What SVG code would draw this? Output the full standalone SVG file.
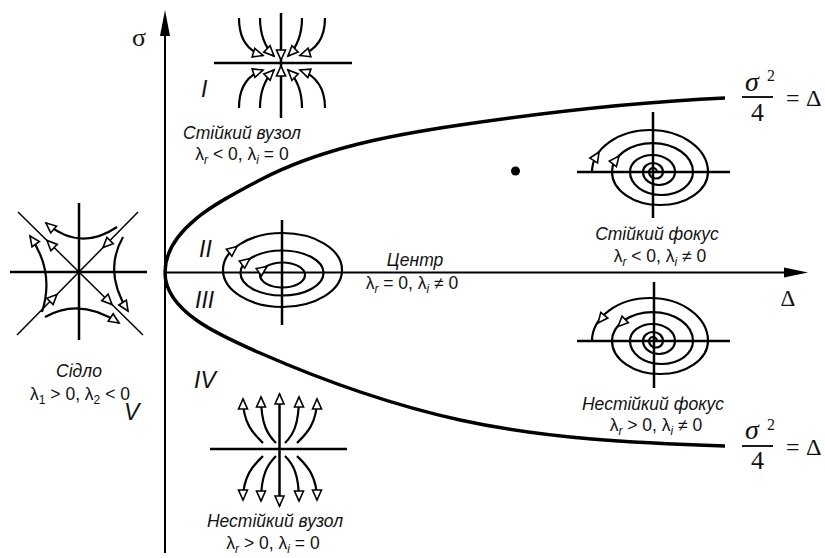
<svg xmlns="http://www.w3.org/2000/svg" xmlns:xlink="http://www.w3.org/1999/xlink" width="825" height="558" viewBox="0 0 825 558">
<style>
.ax{stroke:#000;stroke-width:2;fill:none}
.pb{stroke:#000;stroke-width:3.5;fill:none;stroke-linecap:butt}
.cr{stroke:#000;stroke-width:2.5;fill:none}
.tr{stroke:#000;stroke-width:2.2;fill:none}
.dg{stroke:#000;stroke-width:1.5;fill:none}
.me{marker-end:url(#oa)}
.lbl{font-family:"Liberation Sans",Arial,sans-serif;font-style:italic;font-size:17.5px;fill:#111}
.lam{font-family:"Liberation Sans",Arial,sans-serif;font-size:17.5px;fill:#111}
.sub{font-size:12px;font-style:italic}
.subn{font-size:12px}
.rn{font-family:"Liberation Sans",Arial,sans-serif;font-style:italic;font-size:23px;fill:#111}
.sf{font-family:"Liberation Serif","Times New Roman",serif;fill:#111}
</style>
<defs>
<marker id="oa" markerUnits="userSpaceOnUse" markerWidth="14" markerHeight="12" refX="11" refY="5.5" orient="auto" overflow="visible">
<path d="M1,1 L11,5.5 L1,10 Z" fill="#fff" stroke="#000" stroke-width="1.6"/>
</marker>
<path id="tri" d="M0,0 L-10,-4.5 L-10,4.5 Z" fill="#fff" stroke="#000" stroke-width="1.6"/>
</defs>

<g id="axes">
<line class="ax" x1="165" y1="553" x2="165" y2="30"/>
<polygon points="165,10 160,36 170,36" fill="#000"/>
<line class="ax" x1="165" y1="272.5" x2="790" y2="272.5"/>
<polygon points="808,272.5 784,267.5 784,277.5" fill="#000"/>
<text class="sf" x="139" y="46" font-size="26" text-anchor="middle">σ</text>
<text class="sf" x="788" y="306" font-size="23" text-anchor="middle">Δ</text>
</g>

<g id="boundary">
<path class="pb" d="M165,272.5 C165,228 221,200.5 260,180 C321,148 392,135 460,125 C548,112 636,102 725,98"/>
<path class="pb" d="M165,272.5 C165,312 221,336 260,353 C324,381 392,405 460,420 C547,439 636,443 725,446"/>
<circle cx="515.5" cy="171" r="4.5" fill="#000"/>
</g>

<g id="formula-top">
<text class="sf" x="745" y="91" font-size="28" font-style="italic">σ</text>
<text class="sf" x="767" y="81" font-size="16">2</text>
<line x1="742" y1="97" x2="773" y2="97" stroke="#000" stroke-width="1.8"/>
<text class="sf" x="757.5" y="121" font-size="26" text-anchor="middle">4</text>
<text class="sf" x="786" y="106" font-size="24">=</text>
<text class="sf" x="806" y="106" font-size="24">Δ</text>
</g>

<g id="formula-bottom">
<text class="sf" x="745" y="439" font-size="28" font-style="italic">σ</text>
<text class="sf" x="767" y="430" font-size="16">2</text>
<line x1="742" y1="446" x2="773" y2="446" stroke="#000" stroke-width="1.8"/>
<text class="sf" x="757.5" y="469" font-size="26" text-anchor="middle">4</text>
<text class="sf" x="786" y="455" font-size="24">=</text>
<text class="sf" x="806" y="455" font-size="24">Δ</text>
</g>

<g id="regions">
<text class="rn" x="201" y="97">I</text>
<text class="rn" x="199" y="257">II</text>
<text class="rn" x="195" y="308">III</text>
<text class="rn" x="194" y="388">IV</text>
<text class="rn" x="124" y="420">V</text>
</g>

<g id="stable-node">
<line class="cr" x1="214" y1="63" x2="352" y2="63"/>
<line class="cr" x1="281" y1="13" x2="281" y2="118"/>
<path class="tr me" d="M239,18 C239,40 248,51 263,55.5"/>
<path class="tr me" d="M260,18 C260,36 265,47 274,56"/>
<path class="tr me" d="M302,18 C302,36 297,47 288,56"/>
<path class="tr me" d="M325,18 C325,40 314,51 300,55.5"/>
<path class="tr me" d="M239,108 C239,86 248,75 263,70"/>
<path class="tr me" d="M260,108 C260,90 265,79 274,70"/>
<path class="tr me" d="M302,108 C302,90 297,79 288,70"/>
<path class="tr me" d="M325,108 C325,86 314,75 300,70"/>
<use xlink:href="#tri" href="#tri" transform="translate(281,60) rotate(90)"/>
<use xlink:href="#tri" href="#tri" transform="translate(281,66) rotate(-90)"/>
<text class="lbl" x="242" y="139" text-anchor="middle">Стійкий вузол</text>
<text class="lam" x="242" y="160" text-anchor="middle">λ<tspan class="sub" dy="4">r</tspan><tspan dy="-4"> &lt; 0, λ</tspan><tspan class="sub" dy="4">i</tspan><tspan dy="-4"> = 0</tspan></text>
</g>

<g id="saddle">
<line class="cr" x1="10" y1="272" x2="147" y2="272"/>
<line class="cr" x1="79" y1="203" x2="79" y2="340"/>
<line class="dg" x1="18" y1="212" x2="143" y2="335"/>
<line class="dg" x1="138" y1="212" x2="17" y2="335"/>
<use xlink:href="#tri" href="#tri" transform="translate(47,240.5) rotate(-135)"/>
<use xlink:href="#tri" href="#tri" transform="translate(112,304.5) rotate(45)"/>
<use xlink:href="#tri" href="#tri" transform="translate(103,247.6) rotate(135)"/>
<use xlink:href="#tri" href="#tri" transform="translate(57,294.4) rotate(-45)"/>
<path class="tr me" d="M117,227 Q80,252 46,223"/>
<path class="tr me" d="M45,317 Q80,297 119,323"/>
<path class="tr me" d="M42,312 Q55,272 30,236"/>
<path class="tr me" d="M123,237 Q103,272 128,311"/>
<text class="lbl" x="79" y="377" text-anchor="middle">Сідло</text>
<text class="lam" x="80" y="400" text-anchor="middle">λ<tspan class="subn" dy="4">1</tspan><tspan dy="-4"> &gt; 0, λ</tspan><tspan class="subn" dy="4">2</tspan><tspan dy="-4"> &lt; 0</tspan></text>
</g>

<g id="center">
<line class="cr" x1="282" y1="220" x2="282" y2="325"/>
<ellipse class="tr" cx="282.5" cy="270" rx="59.5" ry="37"/>
<ellipse class="tr" cx="282" cy="273" rx="41.5" ry="22.5"/>
<ellipse class="tr" cx="282.5" cy="275" rx="22.5" ry="12.5"/>
<use xlink:href="#tri" href="#tri" transform="translate(237,246.5) rotate(-38)"/>
<use xlink:href="#tri" href="#tri" transform="translate(250,258.5) rotate(-37)"/>
<use xlink:href="#tri" href="#tri" transform="translate(267,266.5) rotate(-35)"/>
<text class="lbl" x="415" y="266" text-anchor="middle">Центр</text>
<text class="lam" x="412" y="289" text-anchor="middle">λ<tspan class="sub" dy="4">r</tspan><tspan dy="-4"> = 0, λ</tspan><tspan class="sub" dy="4">i</tspan><tspan dy="-4"> ≠ 0</tspan></text>
</g>

<g id="stable-focus">
<line class="cr" x1="577" y1="172" x2="730" y2="172"/>
<line class="cr" x1="653" y1="112" x2="653" y2="218"/>
<path class="tr" d="M592,172 A58,42 0 0 1 708,172 A48,33 0 0 1 612,172 A40.5,29 0 0 1 693,172 A31.5,23 0 0 1 630,172 A22.5,17 0 0 1 675,172 A16,13 0 0 1 643,172 A10,9 0 0 1 663,172 A7,6.5 0 0 1 649,172 A4,4 0 0 1 657,172"/>
<use xlink:href="#tri" href="#tri" transform="translate(599,152) rotate(-58)"/>
<use xlink:href="#tri" href="#tri" transform="translate(619,156) rotate(-52)"/>
<text class="lbl" x="657" y="240" text-anchor="middle">Стійкий фокус</text>
<text class="lam" x="660" y="262" text-anchor="middle">λ<tspan class="sub" dy="4">r</tspan><tspan dy="-4"> &lt; 0, λ</tspan><tspan class="sub" dy="4">i</tspan><tspan dy="-4"> ≠ 0</tspan></text>
</g>

<g id="unstable-focus">
<line class="cr" x1="577" y1="341" x2="730" y2="341"/>
<line class="cr" x1="654" y1="282" x2="654" y2="388"/>
<path class="tr" d="M592,341 A58,43 0 0 1 708,341 A48,33 0 0 1 612,341 A40.5,29 0 0 1 693,341 A31.5,23 0 0 1 630,341 A22.5,17 0 0 1 675,341 A16,13 0 0 1 643,341 A10,9 0 0 1 663,341 A7,6.5 0 0 1 649,341 A4,4 0 0 1 657,341"/>
<use xlink:href="#tri" href="#tri" transform="translate(598,323) rotate(129)"/>
<use xlink:href="#tri" href="#tri" transform="translate(618,326.5) rotate(136)"/>
<text class="lbl" x="653" y="410" text-anchor="middle">Нестійкий фокус</text>
<text class="lam" x="656" y="431" text-anchor="middle">λ<tspan class="sub" dy="4">r</tspan><tspan dy="-4"> &gt; 0, λ</tspan><tspan class="sub" dy="4">i</tspan><tspan dy="-4"> ≠ 0</tspan></text>
</g>

<g id="unstable-node">
<line class="cr" x1="210" y1="449" x2="347" y2="449"/>
<path class="cr me" d="M279.5,449 L279.5,394"/>
<path class="cr me" d="M279.5,449 L279.5,506"/>
<path class="tr me" d="M263,443 C255,435 243,425 243,399"/>
<path class="tr me" d="M276,443 C268,435 261,425 261,397"/>
<path class="tr me" d="M285,443 C293,435 299,425 299,397"/>
<path class="tr me" d="M297,443 C305,435 317,425 317,399"/>
<path class="tr me" d="M263,456 C255,464 243,474 243,500"/>
<path class="tr me" d="M276,456 C268,464 261,474 261,501"/>
<path class="tr me" d="M285,456 C293,464 299,474 299,501"/>
<path class="tr me" d="M297,456 C305,464 317,474 317,500"/>
<text class="lbl" x="275" y="527" text-anchor="middle">Нестійкий вузол</text>
<text class="lam" x="273" y="549" text-anchor="middle">λ<tspan class="sub" dy="4">r</tspan><tspan dy="-4"> &gt; 0, λ</tspan><tspan class="sub" dy="4">i</tspan><tspan dy="-4"> = 0</tspan></text>
</g>
</svg>
